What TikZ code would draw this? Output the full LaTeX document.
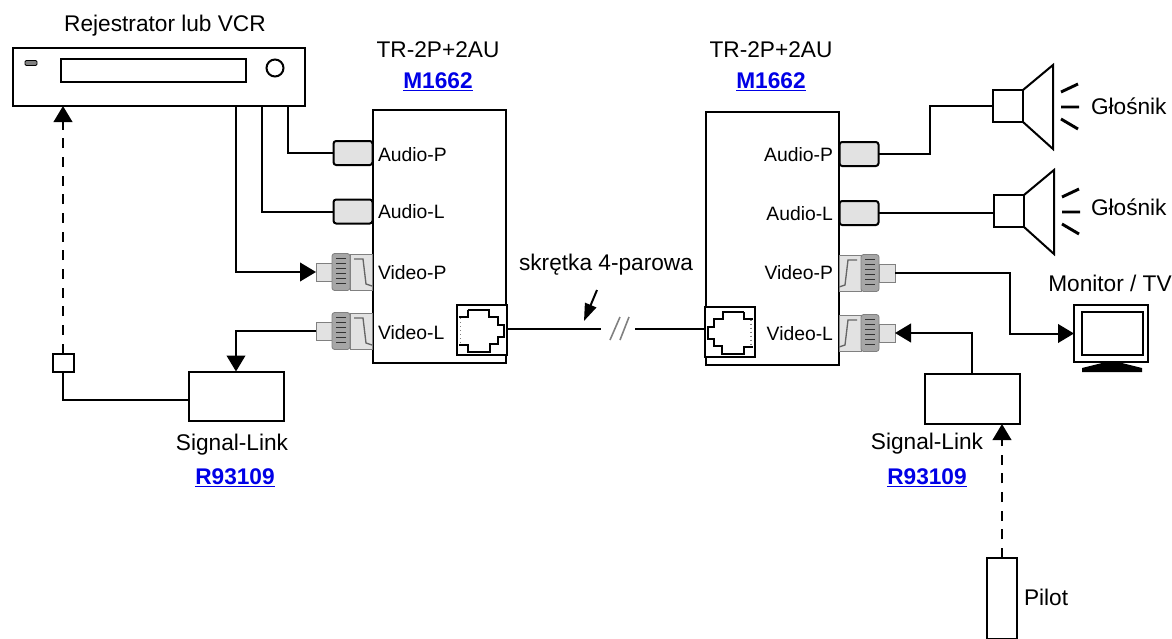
\documentclass[tikz,border=0pt]{standalone}
\usepackage{fontspec}
\setmainfont{Liberation Sans}
\usetikzlibrary{arrows.meta, positioning, calc}
\newcommand{\px}{0.75pt}
\definecolor{linkblue}{RGB}{0,0,230}
\definecolor{plugfill}{RGB}{226,226,226}
\tikzset{
  wiring/.style={
	>={Triangle[length=12pt,width=14pt]}, % big solid arrow heads
	line width=1.5pt,
	every node/.style={inner sep=0pt, outer sep=0pt, font=\fontsize{17pt}{19pt}\selectfont},
  },
  unit/.style={draw, fill=white, minimum width=#1*\px},
  panel/.style={draw, fill=white, minimum width=133*\px, minimum height=253*\px},
  audioplug/.style={draw, fill=plugfill, rounded corners=2pt, minimum width=39*\px, minimum height=24*\px},
  sense/.style={dashed, dash pattern=on 7.5pt off 6.5pt},
  link/.style={text=linkblue, font=\fontsize{17pt}{19pt}\selectfont\bfseries},
  portlabel/.style={font=\fontsize{14.5pt}{16pt}\selectfont},
}
% BNC plug: #1 position on the panel edge, #2 direction, #3 name of its free end
\newcommand{\bncplug}[3]{
  \begin{scope}[shift={#1}, xscale=#2, line width=0.6pt]
	\draw[fill=plugfill, draw=gray] (0,-18) rectangle (22,18);
	\draw[gray!80!black, line width=1pt] (18,-13) -- (9,-13) -- (6,12) -- (0,14);
	\draw[fill=plugfill, draw=gray] (40,-9) rectangle (56,9);
	\draw[fill=gray!70, draw=gray, rounded corners=2pt] (22,-18.5) rectangle (40,18.5);
	\foreach \k in {-14,-9,...,14} \draw[gray!40!black] (26,\k) -- (36,\k);
	\coordinate (#3) at (56,0);
  \end{scope}
}
% RJ45 socket: #1 centre, #2 direction, #3 name
\newcommand{\rjsocket}[3]{
  \begin{scope}[shift={#1}, xscale=#2]
	\node[draw, fill=white, minimum width=50*\px, minimum height=50*\px] (#3) at (0,0) {};
	\draw[line width=1.5pt] (-14,-20) -- (7,-20) -- (7,-13) -- (16,-13) -- (16,-5) -- (22,-5)
	  -- (22,7) -- (16,7) -- (16,14) -- (8,14) -- (8,22) -- (-14,22) -- (-14,15) -- (-23,15);
	\draw[line width=1.5pt] (-23,-13) -- (-14,-13) -- (-14,-20);
	\draw[gray, line width=1pt, dotted] (-21,-12) -- (-21,14);
  \end{scope}
}
% loudspeaker: #1 centre of the magnet, #2 name
\newcommand{\speaker}[2]{
  \begin{scope}[shift={#1}]
	\node[draw, minimum width=30*\px, minimum height=32*\px] (#2) at (0,0) {};
	\draw (15,-16) -- (45,-41) -- (45,43) -- (15,16);
	\draw[line width=2.2pt] (53,-14) -- (70,-22) (53,1) -- (71,1) (53,13) -- (70,23);
  \end{scope}
}
\begin{document}
\begin{tikzpicture}[wiring, x=\px, y=-\px]
	  \useasboundingbox (0,0) rectangle (1172,639);

	  % recorder
	  \node[unit=292, minimum height=58*\px] (vcr) at (159,77) {};
	  \node[unit=185, minimum height=23*\px] (slot) at (153.5,70.5) {};
	  \node[draw, circle, minimum size=17*\px] (knob) at (275,68) {};
	  \node[draw, fill=gray, rounded corners=1pt, minimum width=12*\px, minimum height=5*\px, line width=0.7pt] (led) at (31,63) {};
	  \node (vcrlabel) at (165,26) {Rejestrator lub VCR};

	  % transmission units
	  \node[panel] (txbox) at (439.5,236.5) {};
	  \node[panel] (rxbox) at (772,238) {};
	  \node (txname) at (438,50) {TR-2P+2AU};
	  \node[link] (txlink) at (438,82) {\underline{M1662}};
	  \node (rxname) at (771,50) {TR-2P+2AU};
	  \node[link] (rxlink) at (771,82) {\underline{M1662}};

	  \node[audioplug] (txaudiop) at (353,153) {};
	  \node[audioplug] (txaudiol) at (353,211.5) {};
	  \node[audioplug] (rxaudiop) at (859,154) {};
	  \node[audioplug] (rxaudiol) at (859,213) {};
	  \bncplug{(372,272)}{-1}{txvideop}
	  \bncplug{(372,331)}{-1}{txvideol}
	  \bncplug{(839,273)}{1}{rxvideop}
	  \bncplug{(839,333)}{1}{rxvideol}
	  \rjsocket{(481.5,330)}{1}{txrj}
	  \rjsocket{(730,331.5)}{-1}{rxrj}

	  \node[portlabel, anchor=west] (txap) at (378,155) {Audio-P};
	  \node[portlabel, anchor=west] (txal) at (378,212) {Audio-L};
	  \node[portlabel, anchor=west] (txvp) at (378,273) {Video-P};
	  \node[portlabel, anchor=west] (txvl) at (378,333) {Video-L};
	  \node[portlabel, anchor=east] (rxap) at (833,155) {Audio-P};
	  \node[portlabel, anchor=east] (rxal) at (833,214) {Audio-L};
	  \node[portlabel, anchor=east] (rxvp) at (833,273) {Video-P};
	  \node[portlabel, anchor=east] (rxvl) at (833,334) {Video-L};

	  % signal links
	  \node[unit=95, minimum height=49*\px] (sltx) at (236,396) {};
	  \node (sltxname) at (232,445) {Signal-Link};
	  \node[link] (sltxlink) at (235,478) {\underline{R93109}};
	  \node[unit=95, minimum height=50*\px] (slrx) at (972,399) {};
	  \node (slrxname) at (927,444) {Signal-Link};
	  \node[link] (slrxlink) at (927,478) {\underline{R93109}};
	  \node[draw, minimum width=21*\px, minimum height=18*\px] (ir) at (63,362.5) {};
	  \node[draw, minimum width=30*\px, minimum height=81*\px, anchor=north] (pilot) at (1002,558) {};
	  \node[anchor=west] (pilotname) at (1024,597) {Pilot};

	  % speakers and monitor
	  \speaker{(1008,106)}{spka}
	  \speaker{(1009,211)}{spkb}
	  \node[anchor=west] (spkaname) at (1091,106) {Głośnik};
	  \node[anchor=west] (spkbname) at (1091,207) {Głośnik};
	  \node[draw, line width=1.5pt, minimum width=74*\px, minimum height=57*\px] (tvcase) at (1111,333.5) {};
	  \node[draw, fill=white, line width=1.5pt, minimum width=61*\px, minimum height=43*\px] (tv) at (1112.5,333.5) {};
	  \fill (1106,362) -- (1118,362) -- (1142,368) -- (1142,372) -- (1082,372) -- (1082,368) -- cycle;
	  \node (tvname) at (1110,283) {Monitor / TV};

	  % wires
	  \coordinate (vcrp) at (288,106);
	  \coordinate (vcrl) at (262,106);
	  \coordinate (vcrv) at (236,106);
	  \draw (vcrp) |- (txaudiop.west);
	  \draw (vcrl) |- (txaudiol.west);
	  \draw[->] (vcrv) |- (txvideop);
	  \draw[->] (txvideol) -| (sltx.north);
	  \draw (sltx.west |- 0,400) -| (ir.south);
	  \draw[->, sense] (ir.north) -- (ir.north |- vcr.south);

	  \draw (rxaudiop.east) -- (930,154) |- (spka.west);
	  \draw (rxaudiol.east) -- (spkb.west |- rxaudiol.east);
	  \coordinate (tvbend) at (1010,333.5);
	  \draw[->] (rxvideop) -| (tvbend) -- (tvcase.west);
	  \draw[->] (slrx.north) |- (rxvideol);
	  \draw[->, sense] (pilot.north) -- (pilot.north |- slrx.south);

	  % cable with a break
	  \coordinate (breaka) at (601,329);
	  \coordinate (breakb) at (635,329);
	  \draw (txrj.east |- breaka) -- (breaka);
	  \draw (breakb) -- (rxrj.west |- breakb);
	  \draw[gray, line width=1.2pt] (610,340) -- (620,317) (620,340) -- (629,317);
	  \node (cablename) at (606,265) {skrętka 4-parowa};
	  \coordinate (cabletail) at (597,290);
	  \draw[-{Triangle[length=13pt,width=9pt]}] (cabletail) -- (584,321);
\end{tikzpicture}
\end{document}
